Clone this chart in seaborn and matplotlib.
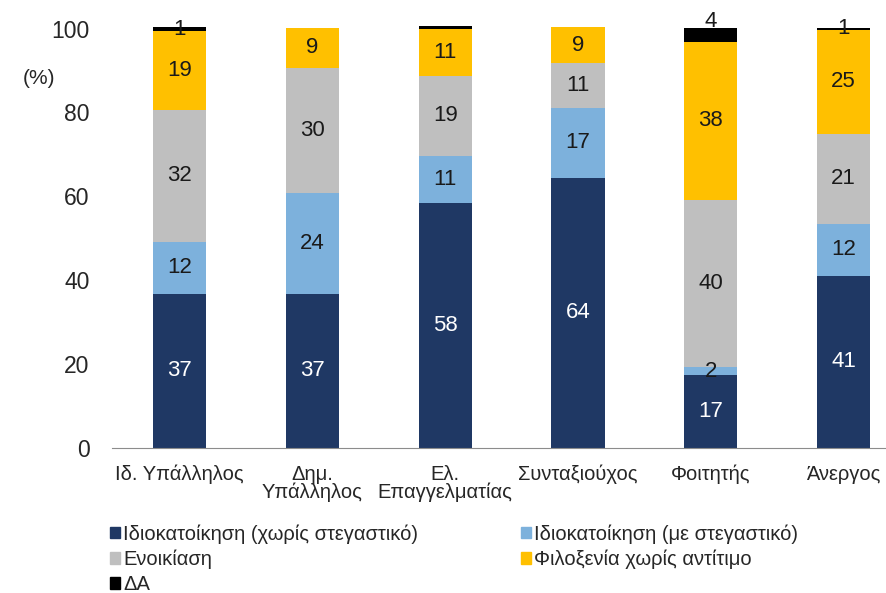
import numpy as np
import pandas as pd
import matplotlib
matplotlib.use('Agg')
import matplotlib.pyplot as plt
from matplotlib.patches import Patch
import seaborn as sns

# categories and series (%)
categories = ['Ιδ. Υπάλληλος', 'Δημ.\nΥπάλληλος', 'Ελ.\nΕπαγγελματίας',
              'Συνταξιούχος', 'Φοιτητής', 'Άνεργος']
own_no_loan = [36.8, 36.8, 58.3, 64.4, 17.3, 41.1]
own_loan = [12.3, 24.0, 11.4, 16.7, 1.9, 12.4]
rent = [31.6, 29.9, 19.0, 10.6, 40.0, 21.4]
hosted = [18.8, 9.4, 11.3, 8.6, 37.7, 24.8]
na = [0.8, 0, 0.6, 0, 3.3, 0.5]
na_labels = ['1', '', '', '', '4', '1']

series_names = ['Ιδιοκατοίκηση (χωρίς στεγαστικό)', 'Ιδιοκατοίκηση (με στεγαστικό)',
                'Ενοικίαση', 'Φιλοξενία χωρίς αντίτιμο', 'ΔΑ']
colors = ['#1F3864', '#7DB1DC', '#BFBFBF', '#FFC000', '#000000']

sns.set_style('white')
plt.rcParams['font.family'] = ['Liberation Sans', 'DejaVu Sans']

df = pd.DataFrame({'cat': categories, 's0': own_no_loan, 's1': own_loan,
                   's2': rent, 's3': hosted, 's4': na})
cols = ['s0', 's1', 's2', 's3', 's4']
cum = df[cols].cumsum(axis=1)

fig = plt.figure(figsize=(8.87, 5.93), dpi=100)
ax = fig.add_axes([0.126, 0.2445, 0.874, 0.7285])

# stacked bars: draw cumulative totals from top series down
for i in range(len(cols) - 1, -1, -1):
    sns.barplot(x=df['cat'], y=cum[cols[i]], color=colors[i], width=0.40,
                saturation=1, linewidth=0, ax=ax, order=categories)

# value labels
for j in range(len(categories)):
    for i, c in enumerate(cols):
        v = df[c][j]
        if v <= 0:
            continue
        bottom = cum[c][j] - v
        if c == 's4':
            lab = na_labels[j]
            if not lab:
                continue
            y = bottom + v / 2 if v < 2 else cum[c][j] + 1.5
            ax.text(j, y, lab, ha='center', va='center', fontsize=16, color='#1a1a1a')
        else:
            y = bottom + v / 2
            col = 'white' if i == 0 else '#1a1a1a'
            ax.text(j, y, f'{round(v)}', ha='center', va='center', fontsize=16, color=col)

ax.set_xlim(-0.51, 5.326)
ax.set_ylim(0, 103)
ax.set_yticks(range(0, 101, 20))
ax.set_xlabel('')
ax.set_ylabel('')
ax.tick_params(axis='y', labelsize=16.5, length=0, pad=16, labelcolor='#262626')
ax.tick_params(axis='x', labelsize=14.5, length=0, pad=12, labelcolor='#262626')
for t in ax.get_xticklabels():
    t.set_linespacing(0.95)
for s in ['top', 'right', 'left']:
    ax.spines[s].set_visible(False)
ax.spines['bottom'].set_color('#8c8c8c')
ax.text(-0.073, 88.2, '(%)', transform=ax.get_yaxis_transform(), fontsize=15,
        ha='right', va='center', color='#262626')

# legend filled row-wise like the reference
order = [0, 2, 4, 1, 3]
handles = [Patch(color=colors[i], label=series_names[i]) for i in order]
fig.legend(handles=handles, ncol=2, loc='upper left', bbox_to_anchor=(0.124, 0.116),
           frameon=False, fontsize=14.5, handlelength=0.5, handleheight=0.5,
           handletextpad=0.15, columnspacing=5.1, labelspacing=0.3,
           borderaxespad=0, borderpad=0)

fig.savefig('out.png', dpi=100)
